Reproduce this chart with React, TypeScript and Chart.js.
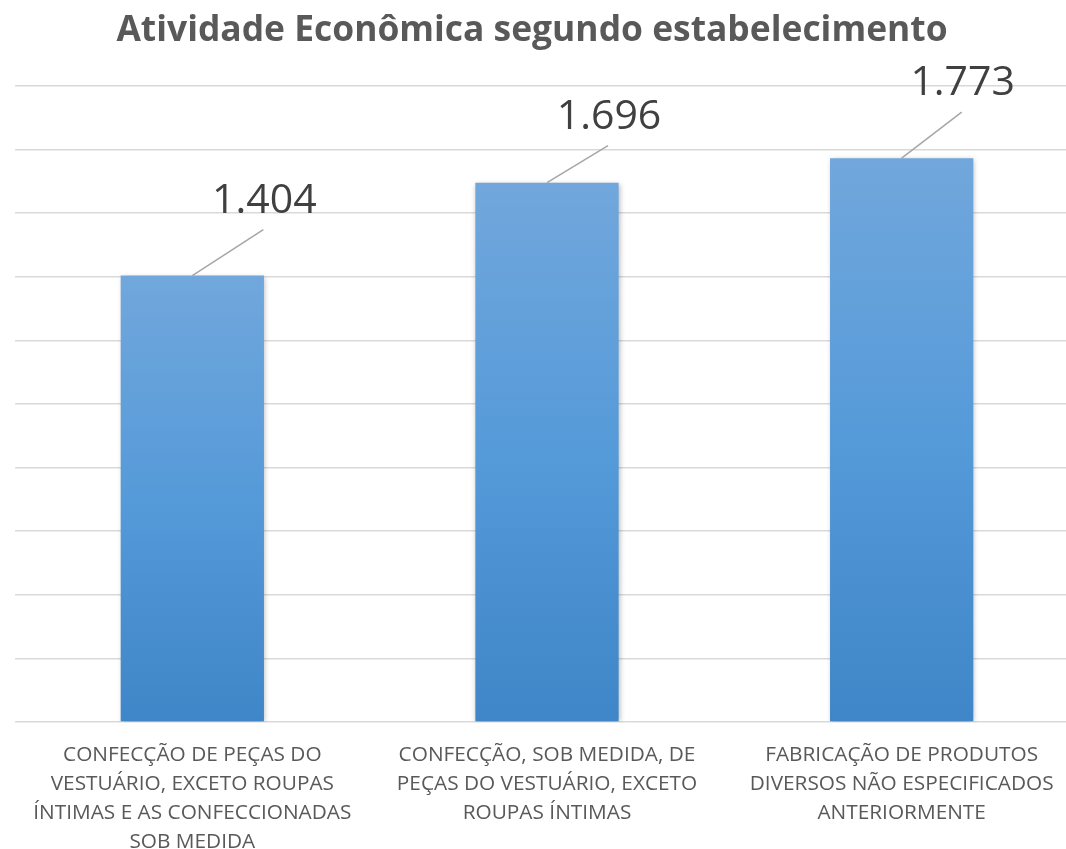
import React, { useEffect, useRef } from "react";
import { Chart, registerables } from "chart.js";

Chart.register(...registerables);

const TITLE = "Atividade Econômica segundo estabelecimento";
const CATEGORIES: string[][] = [
  ["CONFECÇÃO DE PEÇAS DO", "VESTUÁRIO, EXCETO ROUPAS", "ÍNTIMAS E AS CONFECCIONADAS", "SOB MEDIDA"],
  ["CONFECÇÃO, SOB MEDIDA, DE", "PEÇAS DO VESTUÁRIO, EXCETO", "ROUPAS ÍNTIMAS"],
  ["FABRICAÇÃO DE PRODUTOS", "DIVERSOS NÃO ESPECIFICADOS", "ANTERIORMENTE"],
];
const VALUES: number[] = [1404, 1696, 1773];
const Y_MAX = 2000;
const Y_STEP = 200;

// label offsets relative to the top-centre of each bar (manually placed labels)
const LABEL_DX: number[] = [72, 62, 61];
const LABEL_DY: number[] = [-63, -54, -63];

const fmt = (v: number) => v.toLocaleString("pt-BR");

export default function App() {
  const ref = useRef<HTMLCanvasElement | null>(null);

  useEffect(() => {
    const canvas = ref.current;
    if (!canvas) return;

    const titlePlugin = {
      id: "customTitle",
      afterDraw(chart: any) {
        const ctx = chart.ctx;
        ctx.save();
        ctx.font = "bold 35.4px 'Open Sans'";
        ctx.fillStyle = "#595959";
        ctx.textAlign = "center";
        ctx.textBaseline = "alphabetic";
        ctx.fillText(TITLE, 532, 41);
        ctx.restore();
      },
    };

    const shadowPlugin = {
      id: "barShadow",
      beforeDatasetsDraw(chart: any) {
        const ctx = chart.ctx;
        ctx.save();
        ctx.shadowColor = "rgba(0,0,0,0.28)";
        ctx.shadowBlur = 5;
        ctx.shadowOffsetX = 1;
        ctx.shadowOffsetY = 1;
      },
      afterDatasetsDraw(chart: any) {
        chart.ctx.restore();
      },
    };

    const labelPlugin = {
      id: "leaderLabels",
      afterDatasetsDraw(chart: any) {
        const ctx = chart.ctx;
        const meta = chart.getDatasetMeta(0);
        ctx.save();
        meta.data.forEach((bar: any, i: number) => {
          const x = bar.x;
          const y = bar.y;
          const dx = LABEL_DX[i];
          const dy = LABEL_DY[i];
          ctx.strokeStyle = "#a6a6a6";
          ctx.lineWidth = 1.5;
          ctx.beginPath();
          ctx.moveTo(x, y);
          ctx.lineTo(x + dx - 1, y + dy + 17);
          ctx.stroke();
          ctx.font = "41px 'Open Sans'";
          ctx.fillStyle = "#404040";
          ctx.textAlign = "center";
          ctx.textBaseline = "alphabetic";
          ctx.fillText(fmt(VALUES[i]), x + dx, y + dy);
        });
        ctx.restore();
      },
    };

    const chart = new Chart(canvas, {
      type: "bar",
      data: {
        labels: CATEGORIES,
        datasets: [
          {
            data: VALUES,
            backgroundColor: (c: any) => {
              const ch = c.chart;
              const area = ch.chartArea;
              if (!area || !ch.scales.y) return "#5b9bd5";
              const top = ch.scales.y.getPixelForValue(c.raw);
              const g = ch.ctx.createLinearGradient(0, top, 0, area.bottom);
              g.addColorStop(0, "#71a7dc");
              g.addColorStop(0.5, "#559ad9");
              g.addColorStop(1, "#3f86c8");
              return g;
            },
            borderWidth: 0,
            categoryPercentage: 0.404,
            barPercentage: 1,
          },
        ],
      },
      options: {
        responsive: false,
        animation: false,
        layout: { padding: { left: 15, right: 1, top: 86, bottom: 0 } },
        plugins: {
          legend: { display: false },
          title: { display: false },
          tooltip: { enabled: false },
        },
        scales: {
          x: {
            grid: { display: false },
            border: { display: false },
            ticks: {
              color: "#595959",
              font: { family: "'Open Sans'", size: 20.8, lineHeight: "29px" as any },
              padding: 11,
              maxRotation: 0,
              autoSkip: false,
            },
            afterFit: (scale: any) => {
              scale.height = 127;
            },
          },
          y: {
            min: 0,
            max: Y_MAX,
            ticks: { display: false, stepSize: Y_STEP },
            border: { display: false },
            grid: { color: "#d9d9d9", lineWidth: 1.5, drawTicks: false },
          },
        },
      },
      plugins: [shadowPlugin, labelPlugin, titlePlugin],
    });

    return () => chart.destroy();
  }, []);

  return (
    <div
      style={{
        position: "absolute",
        left: 0,
        top: 0,
        width: 1066,
        height: 849,
        overflow: "hidden",
        background: "#fff",
      }}
    >
      <canvas ref={ref} width={1080} height={849} style={{ display: "block" }} />
    </div>
  );
}
